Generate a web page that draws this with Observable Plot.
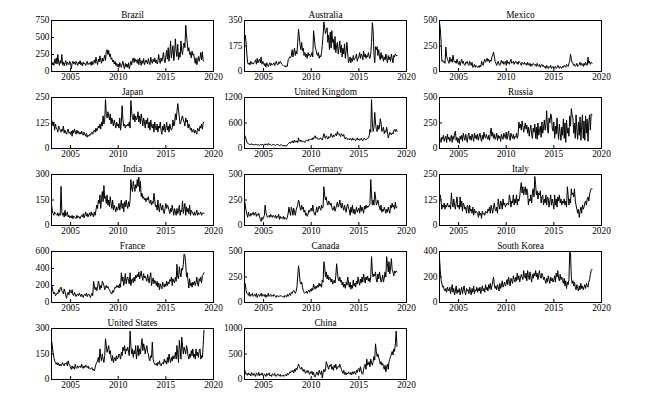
<!DOCTYPE html>
<html><head><meta charset="utf-8">
<script src="https://cdn.jsdelivr.net/npm/d3@7"></script>
<script src="https://cdn.jsdelivr.net/npm/@observablehq/plot@0.6"></script>
<style>
html,body{margin:0;padding:0;background:#fff;}
#chart{position:relative;width:645px;height:396px;overflow:hidden;background:#fff;}
.panel{position:absolute;}
.panel svg{background:none !important;}
</style></head><body><div id="chart"></div>
<script>
const countries = ["Brazil","Australia","Mexico","Japan","United Kingdom","Russia","India","Germany","Italy","France","Canada","South Korea","United States","China"];
const yMax = [750,350,500,250,1200,500,300,500,250,600,500,400,300,1000];
const yTicks = [[0,250,500,750],[0,175,350],[0,250,500],[0,125,250],[0,600,1200],[0,250,500],[0,150,300],[0,250,500],[0,125,250],[0,200,400,600],[0,250,500],[0,200,400],[0,150,300],[0,500,1000]];
const xTickYears = [2005,2010,2015,2020];

// monthly values, Jan 2003 .. Jan 2019
const brazil = [
150,100,130,90,180,120,200,110,250,140,90,160,
120,250,100,140,80,130,160,90,140,120,100,150,
130,40,120,150,110,140,100,150,120,90,140,110,
160,100,130,80,140,110,120,90,130,150,100,120,
110,140,90,150,100,130,170,120,210,150,100,180,
140,230,160,120,200,150,190,240,160,300,320,250,
310,220,260,180,200,140,170,110,150,90,120,70,
110,60,130,90,60,110,150,80,40,120,70,110,
60,130,40,90,150,100,170,200,130,190,150,170,
120,180,100,200,140,90,160,120,190,100,130,170,
140,110,190,130,100,210,150,120,180,140,200,130,
170,110,140,250,160,120,200,150,210,280,170,130,
230,310,180,350,150,260,450,200,300,380,160,260,
480,300,220,400,170,280,210,450,300,250,380,420,
350,680,540,420,300,350,250,280,200,300,240,260,
180,120,200,100,160,220,150,200,280,170,290,160,
150];
const australia = [
230,250,200,120,60,50,60,45,70,55,60,50,
60,70,80,50,90,60,75,85,60,100,50,70,
60,40,55,30,60,45,35,50,60,40,55,45,
50,60,40,55,70,50,45,65,55,70,60,50,
45,40,35,40,30,40,35,80,90,100,95,110,
150,100,130,160,110,140,120,200,290,240,180,150,
200,140,160,110,130,100,120,90,130,110,120,100,
110,130,100,280,230,170,150,120,110,130,90,110,
100,130,180,250,340,300,260,280,300,200,250,150,
270,160,280,200,220,150,240,130,180,200,120,160,
210,130,180,100,160,120,190,90,140,200,120,60,
80,100,60,90,70,110,80,90,100,120,70,90,
100,130,90,120,110,80,140,100,120,90,110,100,
130,100,90,120,200,335,280,120,60,170,150,170,
110,150,100,80,130,90,110,70,100,80,120,90,
60,110,80,100,70,120,90,60,110,100,120,110,
110];
const mexico = [
480,420,300,100,110,90,100,80,240,150,120,100,
80,140,100,120,90,160,110,90,100,80,120,90,
70,100,60,90,120,80,100,70,60,90,80,100,
70,60,100,80,60,90,40,50,70,40,60,50,
40,55,40,60,45,100,80,60,100,120,90,110,
130,100,120,90,110,100,140,160,190,150,100,80,
60,90,100,70,60,90,110,80,100,70,90,100,
60,110,80,90,70,100,120,80,90,100,70,90,
100,80,90,70,100,90,80,60,90,80,70,90,
70,80,60,90,70,60,80,50,70,60,80,70,
60,70,50,80,60,50,70,40,60,70,50,60,
40,50,30,60,40,30,50,40,60,30,40,50,
30,40,50,30,40,60,40,30,50,40,30,50,
40,60,50,40,70,60,50,80,100,170,120,90,
80,60,70,50,60,80,50,60,70,90,60,80,
70,50,80,60,90,70,60,140,80,100,70,90,
80];
const japan = [
140,130,110,130,90,120,100,95,80,110,100,90,
80,95,85,110,75,90,80,70,85,95,75,80,
70,85,60,90,75,95,80,70,90,75,85,70,
80,70,85,75,65,80,70,60,75,55,65,60,
70,65,75,80,70,85,90,80,100,85,95,110,
100,120,95,130,110,160,120,140,240,170,150,180,
160,140,170,120,150,130,110,140,120,100,130,110,
120,100,150,90,130,210,140,110,120,100,115,110,
120,110,130,100,235,180,150,140,170,130,160,140,
150,180,130,160,120,170,140,110,150,130,100,140,
120,150,100,130,90,140,110,100,120,80,130,100,
90,120,80,110,100,130,90,70,110,90,120,80,
100,130,90,110,80,120,100,90,100,140,110,120,
170,140,180,220,190,150,120,130,150,160,140,130,
110,150,130,140,100,120,110,90,100,80,90,95,
75,90,80,70,100,90,85,110,100,120,95,125,
130];
const unitedKingdom = [
320,280,220,150,120,110,100,90,100,110,80,100,
90,80,100,90,80,95,85,70,100,90,80,100,
80,90,110,80,100,90,120,80,100,90,70,90,
80,100,90,70,80,100,90,80,70,80,90,80,
70,60,80,50,70,60,90,110,130,150,120,160,
140,180,130,200,160,150,180,140,250,180,160,200,
170,150,180,160,140,180,200,190,170,220,200,210,
230,200,250,220,280,300,240,260,220,230,210,240,
250,220,200,260,350,280,240,300,260,220,280,250,
270,350,300,260,320,280,310,350,300,400,330,350,
310,280,350,320,290,330,250,220,260,240,210,230,
200,240,220,190,250,200,230,210,180,220,250,200,
230,190,210,240,200,180,220,250,210,200,230,240,
250,300,450,380,1150,600,400,500,850,600,450,400,
550,450,500,700,600,400,450,500,350,420,380,500,
400,250,300,380,350,320,370,340,420,450,400,450,
400];
const russia = [
120,80,60,110,90,130,70,100,120,60,140,90,
110,70,100,130,60,120,90,150,170,80,110,60,
100,50,120,90,130,70,150,110,80,140,100,60,
130,150,90,120,80,140,110,70,150,100,130,90,
140,80,120,150,100,70,130,90,160,120,100,140,
110,90,130,80,150,200,120,160,100,140,90,110,
150,80,130,100,120,70,140,110,90,150,120,100,
160,90,130,170,110,80,150,120,100,140,90,120,
110,150,100,130,260,200,240,180,270,220,160,200,
250,190,230,150,210,120,180,230,140,100,200,160,
240,100,210,90,250,130,180,220,110,260,150,200,
280,180,230,370,200,150,300,250,340,320,200,170,
260,100,220,140,300,180,90,240,150,80,210,130,
290,100,250,60,280,150,200,120,320,220,390,330,
300,150,250,100,330,180,90,260,130,310,80,220,
330,100,270,80,320,150,290,70,250,330,180,340,
330];
const india = [
120,90,70,60,80,70,65,60,75,55,70,60,
230,80,60,75,50,90,55,70,80,50,60,45,
55,45,60,40,55,50,45,40,60,45,55,50,
40,55,60,50,70,45,60,80,55,70,50,65,
75,55,80,60,70,50,80,60,90,120,100,150,
130,180,100,160,200,140,235,160,170,130,180,120,
150,110,170,130,100,150,90,120,100,80,110,90,
100,130,90,120,150,100,130,80,140,110,150,120,
100,140,110,150,270,220,200,260,230,200,240,220,
270,230,285,200,260,170,190,160,170,150,160,140,
160,150,170,140,130,150,120,140,130,190,150,110,
120,90,150,100,80,130,110,90,120,80,70,100,
130,100,120,110,90,70,100,80,120,90,60,100,
80,60,100,70,90,120,60,90,80,145,70,100,
130,60,110,80,100,70,120,60,90,80,70,60,
80,60,70,90,60,75,65,70,80,60,70,75,
70];
const germany = [
240,200,150,110,80,130,100,90,120,100,110,130,
100,120,130,90,110,100,120,80,60,40,80,60,
80,100,200,130,100,80,90,100,80,110,90,80,
100,90,80,100,70,90,80,110,60,90,70,80,
70,90,60,80,70,60,80,120,180,130,100,180,
150,100,170,130,100,150,180,200,250,220,170,150,
200,160,180,130,150,100,120,90,110,150,130,160,
170,140,200,150,110,100,140,180,130,160,190,170,
150,200,170,180,380,300,250,280,220,200,240,220,
200,220,180,150,160,190,140,170,200,230,180,200,
250,200,170,220,180,150,200,160,130,190,210,170,
150,100,180,130,200,120,160,110,140,180,130,150,
170,120,200,140,180,150,120,190,160,200,170,190,
180,200,210,450,300,200,250,200,330,280,200,220,
250,200,180,150,200,130,160,140,180,150,120,160,
130,180,150,120,200,170,220,180,200,160,230,170,
180];
const italy = [
130,150,120,80,100,90,110,80,100,90,110,95,
90,100,80,160,110,90,130,100,80,110,140,90,
100,80,140,90,120,70,110,100,80,90,60,100,
90,60,100,70,80,60,90,50,80,60,70,65,
60,40,70,50,60,35,70,55,60,50,70,65,
60,80,70,90,60,100,80,60,90,110,80,70,
90,60,130,100,80,120,110,80,130,100,110,90,
100,110,105,100,150,130,90,120,110,150,100,130,
110,150,100,130,120,140,180,210,160,190,150,170,
190,150,180,160,100,130,120,150,110,160,180,140,
240,200,150,170,130,160,150,170,110,140,150,100,
130,110,150,100,140,130,90,120,150,100,130,110,
80,150,100,130,90,140,120,150,110,130,100,120,
110,130,100,120,90,190,150,100,130,110,180,150,
160,140,180,120,100,80,60,80,40,70,90,60,
100,80,90,110,120,100,130,140,120,150,170,180,
180];
const france = [
220,170,130,100,120,80,90,110,100,150,120,170,
180,140,120,100,160,130,80,50,100,120,90,150,
130,110,150,90,80,120,100,70,90,100,80,110,
90,70,100,80,60,90,100,80,110,70,90,100,
80,60,90,110,80,250,200,150,180,140,170,250,
220,150,200,170,250,230,200,150,180,200,170,190,
160,150,130,110,100,140,120,150,180,170,200,180,
200,170,220,180,350,250,300,200,250,340,220,280,
300,250,220,350,200,270,280,230,300,250,320,290,
330,300,360,280,320,370,300,260,340,290,310,280,
250,330,280,230,300,350,200,250,290,220,260,240,
200,250,180,230,150,220,190,160,240,200,180,220,
190,250,200,240,220,270,250,300,200,280,250,230,
300,250,450,300,280,420,350,300,400,380,450,570,
550,450,300,350,250,170,280,200,230,180,240,210,
250,200,230,300,220,190,280,250,300,230,320,330,
350];
const canada = [
200,180,120,90,80,70,100,60,80,70,90,60,
70,80,60,90,50,70,80,60,70,90,60,80,
70,60,80,50,70,60,90,60,70,80,60,70,
60,80,70,60,50,70,60,55,65,60,70,60,
55,60,50,70,60,55,80,60,75,90,70,100,
90,110,120,100,90,110,150,250,360,300,200,180,
200,150,120,100,90,100,110,90,110,120,100,130,
110,140,120,180,150,130,160,140,170,150,190,160,
180,150,220,200,400,350,250,300,230,270,220,250,
240,200,230,180,200,220,190,260,380,300,230,210,
250,200,220,170,200,150,180,140,200,170,250,190,
150,200,130,170,140,220,160,190,150,210,180,250,
200,170,230,190,250,200,280,230,190,250,220,260,
210,240,200,250,450,300,250,280,260,300,220,200,
280,230,300,250,200,220,270,200,240,300,250,450,
380,300,400,280,350,430,320,300,260,310,290,310,
300];
const southKorea = [
350,250,180,150,120,130,100,90,110,80,120,100,
90,120,70,100,140,80,110,60,90,130,70,100,
80,110,60,90,120,70,100,130,80,60,110,90,
100,70,120,90,60,110,80,130,70,100,90,120,
80,110,90,120,70,100,130,90,110,80,140,100,
120,90,140,110,150,100,130,160,200,140,110,130,
100,140,120,90,150,110,130,170,120,140,160,130,
150,180,140,200,160,130,190,170,150,210,180,160,
200,170,230,180,210,160,190,220,200,180,250,210,
190,230,170,250,210,180,240,200,160,220,190,230,
210,250,200,230,180,220,250,200,190,230,210,180,
200,170,150,190,160,210,180,150,200,170,190,160,
180,210,160,230,200,250,190,170,220,180,200,170,
150,190,130,170,110,160,140,180,400,380,200,150,
170,130,160,120,100,140,110,90,130,100,150,110,
130,100,120,140,110,150,130,120,160,180,220,250,
260];
const unitedStates = [
230,200,160,130,110,100,90,100,85,95,80,90,
80,90,100,85,80,95,90,100,80,110,90,85,
70,60,80,65,75,60,90,70,65,80,70,75,
80,70,90,75,65,80,70,85,75,70,80,65,
70,60,65,70,55,60,50,70,90,100,110,130,
100,180,130,110,150,120,100,140,240,200,160,180,
200,150,170,130,110,140,100,120,130,110,140,120,
130,150,140,120,160,140,190,170,200,150,180,170,
190,160,140,285,200,150,180,130,170,150,200,120,
160,200,140,180,150,200,240,170,210,190,150,180,
200,160,150,120,110,140,130,220,120,100,90,85,
95,80,100,90,110,85,80,95,100,90,120,100,
110,90,130,100,150,120,100,130,110,140,120,130,
160,120,200,150,100,230,180,120,250,200,150,190,
170,150,200,180,140,120,150,130,170,140,180,130,
150,120,180,140,160,130,170,180,120,140,130,200,
290];
const china = [
200,150,100,120,80,130,90,110,70,140,100,80,
120,90,60,130,100,80,140,70,110,90,130,80,
70,110,90,60,120,80,100,130,70,90,60,110,
100,80,120,70,60,90,110,80,70,100,60,80,
70,90,60,80,100,70,120,90,110,150,130,170,
150,180,130,200,160,220,190,250,300,260,220,200,
240,190,160,200,150,120,170,140,180,130,100,150,
120,160,90,140,70,50,100,150,110,80,180,130,
100,170,30,130,200,150,180,350,300,250,200,280,
260,300,200,250,180,280,230,300,200,220,260,240,
300,250,200,150,120,180,100,140,90,130,110,150,
120,100,140,90,150,110,160,130,100,180,140,200,
220,150,250,180,120,100,200,260,300,200,400,280,
300,350,250,400,330,280,350,450,380,700,550,450,
500,420,380,300,350,280,320,250,200,280,150,250,
300,200,350,400,450,500,550,480,600,550,700,950,
650];

const series = [brazil, australia, mexico, japan, unitedKingdom, russia, india, germany, italy, france, canada, southKorea, unitedStates, china];

const months = d3.utcMonth.range(new Date(Date.UTC(2003,0,1)), new Date(Date.UTC(2019,1,1)));
const xTicks = xTickYears.map(y => new Date(Date.UTC(y,0,1)));
const xDomain = [new Date(Date.UTC(2003,0,1)), new Date(Date.UTC(2020,0,1))];

const colLeft = [51, 244, 439];
const rowTop = [20, 97, 174, 251, 328];
const FW = 162, FH = 51;
const ML = 32, MR = 12, MT = 16, MB = 16;
const font = {fontFamily: "'Liberation Serif', 'Times New Roman', serif", fontSize: "9.3px", color: "black", background: "none", overflow: "visible"};

const chart = document.getElementById("chart");
countries.forEach((name, i) => {
  const col = i % 3, row = Math.floor(i / 3);
  const data = series[i].map((v, k) => ({date: months[k], value: v}));
  const svg = Plot.plot({
    width: FW + ML + MR,
    height: FH + MT + MB,
    marginLeft: ML, marginRight: MR, marginTop: MT, marginBottom: MB,
    style: font,
    x: {type: "utc", domain: xDomain},
    y: {domain: [0, yMax[i]]},
    marks: [
      Plot.lineY(data, {x: "date", y: "value", stroke: "black", strokeWidth: 1}),
      Plot.tickX(xTicks, {x: d => d, insetTop: FH - 3, stroke: "black"}),
      Plot.tickY(yTicks[i], {y: d => d, insetRight: FW - 3, stroke: "black"}),
      Plot.axisX({ticks: xTicks, tickFormat: d3.utcFormat("%Y"), tickSize: 0, tickPadding: 2, label: null}),
      Plot.axisY({ticks: yTicks[i], tickFormat: d => String(d), tickSize: 0, tickPadding: 2, label: null}),
      Plot.frame({stroke: "black", strokeWidth: 1}),
      Plot.text([name], {frameAnchor: "top", lineAnchor: "bottom", dy: -3, fill: "black"})
    ]
  });
  const div = document.createElement("div");
  div.className = "panel";
  div.style.left = (colLeft[col] - ML) + "px";
  div.style.top = (rowTop[row] - MT) + "px";
  div.appendChild(svg);
  chart.appendChild(div);
});
</script></body></html>
